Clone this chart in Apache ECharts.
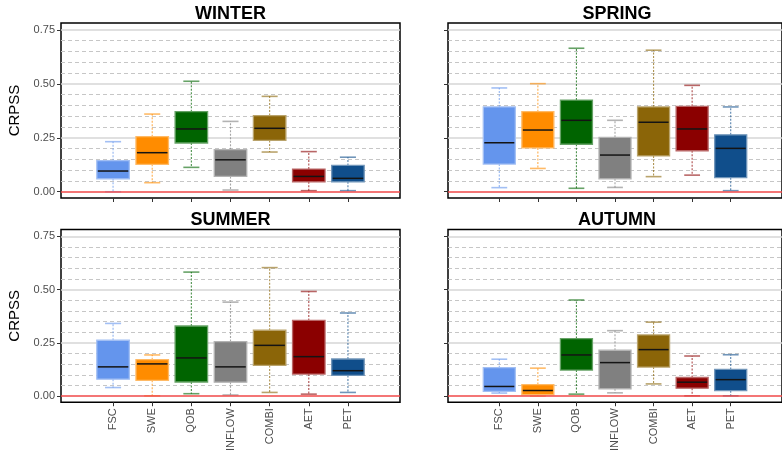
<!DOCTYPE html>
<html>
<head>
<meta charset="utf-8">
<script src="https://cdn.jsdelivr.net/npm/echarts@6/dist/echarts.min.js"></script>
<style>
  html, body { margin: 0; padding: 0; background: #ffffff; }
  #chart { width: 782px; height: 454px; }
</style>
</head>
<body>
<div id="chart"></div>
<script>
// Predictor sets shown on the x axis of every panel
const categories = ['FSC', 'SWE', 'QOB', 'INFLOW', 'COMBI', 'AET', 'PET'];
const seasons = ['WINTER', 'SPRING', 'SUMMER', 'AUTUMN'];

// Box statistics per predictor: [lower whisker, Q1, median, Q3, upper whisker]
const winter = [
  [0.000, 0.060, 0.096, 0.144, 0.232],
  [0.042, 0.127, 0.181, 0.255, 0.360],
  [0.113, 0.226, 0.291, 0.371, 0.512],
  [0.008, 0.071, 0.148, 0.195, 0.326],
  [0.184, 0.238, 0.294, 0.353, 0.442],
  [0.005, 0.046, 0.071, 0.105, 0.186],
  [0.005, 0.046, 0.062, 0.122, 0.160]
];
const spring = [
  [0.019, 0.128, 0.227, 0.393, 0.481],
  [0.108, 0.203, 0.286, 0.371, 0.501],
  [0.016, 0.220, 0.331, 0.425, 0.665],
  [0.020, 0.060, 0.170, 0.252, 0.331],
  [0.070, 0.166, 0.322, 0.393, 0.656],
  [0.077, 0.190, 0.291, 0.396, 0.493],
  [0.005, 0.065, 0.201, 0.264, 0.393]
];
const summer = [
  [0.040, 0.079, 0.137, 0.262, 0.341],
  [0.001, 0.074, 0.151, 0.171, 0.193],
  [0.011, 0.066, 0.179, 0.329, 0.582],
  [0.005, 0.065, 0.137, 0.256, 0.441],
  [0.017, 0.144, 0.238, 0.309, 0.603],
  [0.009, 0.103, 0.185, 0.355, 0.491],
  [0.017, 0.097, 0.119, 0.174, 0.390]
];
const autumn = [
  [0.014, 0.022, 0.045, 0.133, 0.173],
  [0.000, 0.006, 0.026, 0.054, 0.131],
  [0.009, 0.122, 0.193, 0.270, 0.451],
  [0.015, 0.034, 0.157, 0.215, 0.307],
  [0.057, 0.136, 0.218, 0.287, 0.347],
  [0.001, 0.037, 0.065, 0.087, 0.188],
  [0.001, 0.025, 0.077, 0.125, 0.194]
];

// Axis ticks and reference levels
const yTickValues = [0, 0.25, 0.5, 0.75];
const majorGridLevels = [0.25, 0.5, 0.75];
const minorGridLevels = [0.05, 0.10, 0.15, 0.20, 0.30, 0.35, 0.40, 0.45, 0.55, 0.60, 0.65, 0.70];
const zeroLevel = 0;

const seasonData = [winter, spring, summer, autumn];

// Styling
const boxColors = ['#6495ED', '#FF8C00', '#006400', '#808080', '#8B6508', '#8B0000', '#104E8B'];
const BOX_WIDTH = 0.83;
const CAP_WIDTH = 0.41;
const Y_MIN = -0.029, Y_MAX = 0.782;
const X_MIN = -1.33, X_MAX = 7.33;
const FONT = 'Liberation Sans, Arial, sans-serif';

// Panel layout (pixels)
const layout = [
  { left: 61,  top: 23,    width: 339, height: 175, yLabels: true,  xLabels: false },
  { left: 448, top: 23,    width: 338, height: 175, yLabels: false, xLabels: false },
  { left: 61,  top: 229.5, width: 339, height: 175, yLabels: true,  xLabels: true },
  { left: 448, top: 229.5, width: 338, height: 175, yLabels: false, xLabels: true }
];

function tint(hex, t) {
  const n = parseInt(hex.slice(1), 16);
  const r = (n >> 16) & 255, g = (n >> 8) & 255, b = n & 255;
  const m = c => Math.round(c + (255 - c) * t);
  return 'rgb(' + m(r) + ',' + m(g) + ',' + m(b) + ')';
}

function renderBox(params, api) {
  const i = api.value(0);
  const color = boxColors[i];
  const lo = api.coord([i, api.value(1)]);
  const q1 = api.coord([i, api.value(2)]);
  const md = api.coord([i, api.value(3)]);
  const q3 = api.coord([i, api.value(4)]);
  const hi = api.coord([i, api.value(5)]);
  const bw = api.size([BOX_WIDTH, 0])[0];
  const cw = api.size([CAP_WIDTH, 0])[0];
  const x = lo[0];
  const whisker = () => ({ stroke: color, opacity: 0.7, lineWidth: 1.1, lineDash: [2, 1.5] });
  const cap = () => ({ stroke: color, opacity: 0.6, lineWidth: 1.6 });
  return {
    type: 'group',
    children: [
      { type: 'line', shape: { x1: x, y1: q3[1], x2: x, y2: hi[1] }, style: whisker() },
      { type: 'line', shape: { x1: x, y1: q1[1], x2: x, y2: lo[1] }, style: whisker() },
      { type: 'line', shape: { x1: x - cw / 2, y1: hi[1], x2: x + cw / 2, y2: hi[1] }, style: cap() },
      { type: 'line', shape: { x1: x - cw / 2, y1: lo[1], x2: x + cw / 2, y2: lo[1] }, style: cap() },
      { type: 'rect', shape: { x: x - bw / 2, y: q3[1], width: bw, height: q1[1] - q3[1] },
        style: { fill: color, stroke: tint(color, 0.4), lineWidth: 1.3 } },
      { type: 'line', shape: { x1: x - bw / 2 + 1, y1: md[1], x2: x + bw / 2 - 1, y2: md[1] },
        style: { stroke: '#141414', lineWidth: 1.5 } }
    ]
  };
}

function levelMarks(levels, lineStyle, z) {
  return {
    silent: true, symbol: ['none', 'none'], z: z,
    label: { show: false },
    emphasis: { disabled: true },
    lineStyle: lineStyle,
    data: levels.map(v => ({ yAxis: v }))
  };
}

const grids = [], xAxes = [], yAxes = [], series = [], titles = [];

layout.forEach((p, k) => {
  grids.push({
    left: p.left, top: p.top, width: p.width, height: p.height,
    show: true, borderColor: '#000', borderWidth: 1.5, backgroundColor: 'transparent',
    containLabel: false
  });
  xAxes.push({
    type: 'value', gridIndex: k, min: X_MIN, max: X_MAX, position: 'bottom',
    splitLine: { show: false }, axisLine: { show: false, onZero: false },
    axisTick: { show: true, customValues: categories.map((c, i) => i), length: 4,
      lineStyle: { color: '#333', width: 1 } },
    axisLabel: {
      show: p.xLabels, customValues: categories.map((c, i) => i),
      formatter: v => categories[Math.round(v)] || '',
      rotate: 90, margin: 6, fontSize: 11, color: '#4d4d4d', fontFamily: FONT
    }
  });
  yAxes.push({
    type: 'value', gridIndex: k, min: Y_MIN, max: Y_MAX, position: 'left',
    splitLine: { show: false }, axisLine: { show: false, onZero: false },
    axisTick: { show: true, customValues: yTickValues, length: 4,
      lineStyle: { color: '#333', width: 1 } },
    axisLabel: {
      show: p.yLabels, customValues: yTickValues,
      formatter: v => v.toFixed(2), margin: 6, fontSize: 11, color: '#4d4d4d', fontFamily: FONT
    },
    name: p.yLabels ? 'CRPSS' : '', nameLocation: 'middle', nameGap: 39, nameRotate: 90,
    nameTextStyle: { fontSize: 15, color: '#000', fontFamily: FONT }
  });
  titles.push({
    text: seasons[k], left: p.left + p.width / 2, top: p.top - 18, padding: 0,
    textAlign: 'center',
    textStyle: { fontSize: 18, fontWeight: 'bold', color: '#000', fontFamily: FONT }
  });
  // Background reference lines (behind the boxes)
  series.push({
    type: 'line', xAxisIndex: k, yAxisIndex: k, z: 1, data: [], silent: true,
    markLine: levelMarks(minorGridLevels, { color: '#c6c6c6', width: 1, type: [4, 3] }, 1)
  });
  series.push({
    type: 'line', xAxisIndex: k, yAxisIndex: k, z: 1, data: [], silent: true,
    markLine: levelMarks(majorGridLevels, { color: '#d6d6d6', width: 1.6, type: 'solid' }, 1)
  });
  // Boxes
  series.push({
    type: 'custom', xAxisIndex: k, yAxisIndex: k, z: 2,
    data: seasonData[k].map((s, i) => [i].concat(s)),
    renderItem: renderBox
  });
  // Zero reference line on top
  series.push({
    type: 'line', xAxisIndex: k, yAxisIndex: k, z: 3, data: [], silent: true,
    markLine: levelMarks([zeroLevel], { color: '#f04848', width: 1.6, type: 'solid' }, 6)
  });
});

const chart = echarts.init(document.getElementById('chart'), null, { renderer: 'canvas' });
chart.setOption({
  animation: false,
  backgroundColor: '#ffffff',
  title: titles,
  grid: grids,
  xAxis: xAxes,
  yAxis: yAxes,
  series: series
});
</script>
</body>
</html>
